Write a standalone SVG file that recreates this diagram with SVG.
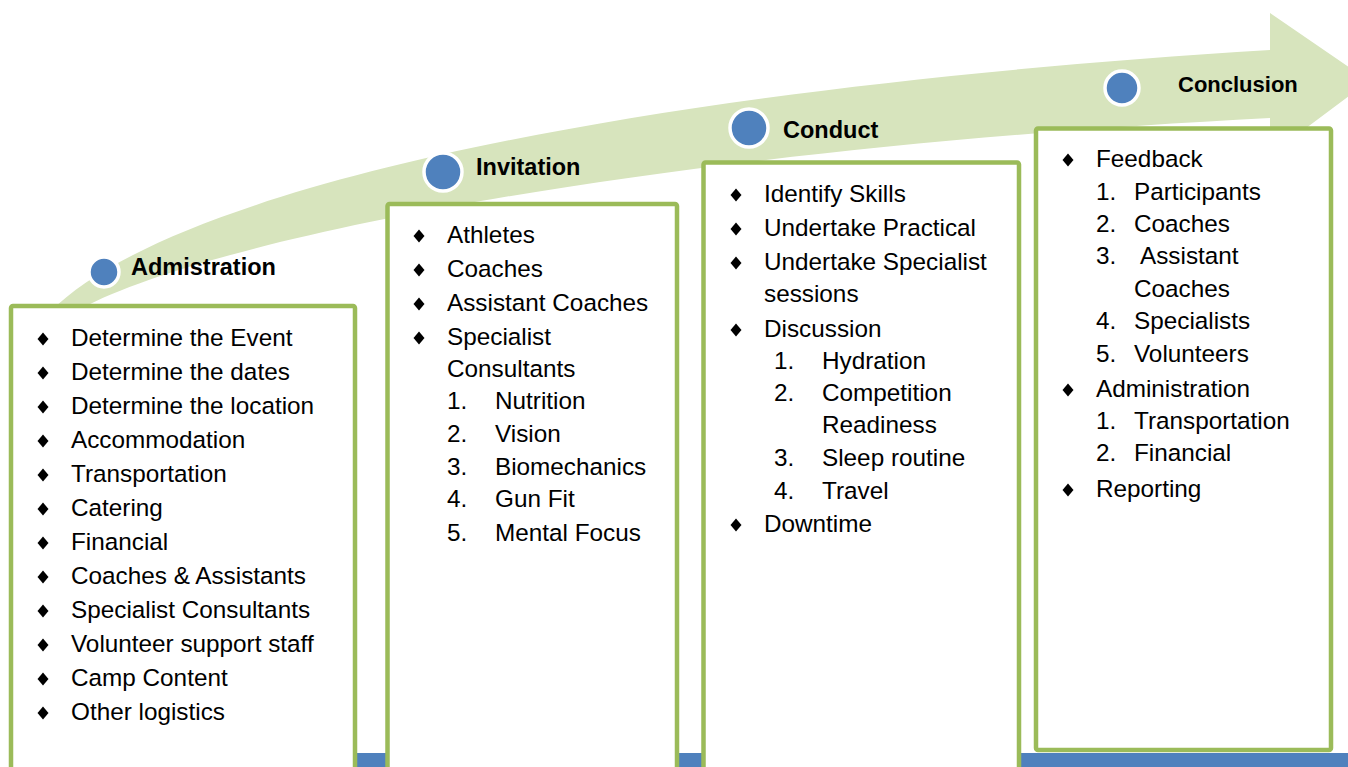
<svg xmlns="http://www.w3.org/2000/svg" xmlns:xlink="http://www.w3.org/1999/xlink" width="1348" height="767" viewBox="0 0 1348 767">
<style>
.box{fill:#fff;stroke:#9BBB59;stroke-width:4.5}
.t{font-family:"Liberation Sans",Arial,sans-serif;font-size:24.3px;fill:#000}
.h{font-family:"Liberation Sans",Arial,sans-serif;font-size:23.5px;font-weight:bold;fill:#000}
.dot{fill:#4F81BD;stroke:#fff;stroke-width:3.5}
.bul{fill:#000}
</style>
<defs>
<path id="b" class="bul" d="M0,-6.5 L5.5,0 L0,6.5 L-5.5,0 Z"/>
</defs>
<rect width="1348" height="767" fill="#fff"/>
<g id="connectors">
<path d="M 50,312 C 170,190 620,90 1270,50 L 1270,13 L 1369,81 L 1270,155 L 1270,118 C 650,150 200,240 75,312 Z" fill="#D7E4BD"/>
</g>
<rect id="bar" x="14" y="753" width="1334" height="14" fill="#4F81BD"/>
<g id="node-admin">
<rect class="box" x="11" y="306" width="344" height="500" rx="2"/>
<circle class="dot" cx="104" cy="272" r="15"/>
<text class="h" x="131" y="275">Admistration</text>
<use xlink:href="#b" x="43" y="339"/><text class="t" x="71" y="346">Determine the Event</text>
<use xlink:href="#b" x="43" y="373"/><text class="t" x="71" y="380">Determine the dates</text>
<use xlink:href="#b" x="43" y="407"/><text class="t" x="71" y="414">Determine the location</text>
<use xlink:href="#b" x="43" y="441"/><text class="t" x="71" y="448">Accommodation</text>
<use xlink:href="#b" x="43" y="475"/><text class="t" x="71" y="482">Transportation</text>
<use xlink:href="#b" x="43" y="509"/><text class="t" x="71" y="516">Catering</text>
<use xlink:href="#b" x="43" y="543"/><text class="t" x="71" y="550">Financial</text>
<use xlink:href="#b" x="43" y="577"/><text class="t" x="71" y="584">Coaches &amp; Assistants</text>
<use xlink:href="#b" x="43" y="611"/><text class="t" x="71" y="618">Specialist Consultants</text>
<use xlink:href="#b" x="43" y="645"/><text class="t" x="71" y="652">Volunteer support staff</text>
<use xlink:href="#b" x="43" y="679"/><text class="t" x="71" y="686">Camp Content</text>
<use xlink:href="#b" x="43" y="713"/><text class="t" x="71" y="720">Other logistics</text>
</g>
<g id="node-invitation">
<rect class="box" x="387.5" y="204" width="289.5" height="600" rx="2"/>
<circle class="dot" cx="443" cy="172" r="19"/>
<text class="h" x="476" y="175">Invitation</text>
<use xlink:href="#b" x="419" y="236"/><text class="t" x="447" y="243">Athletes</text>
<use xlink:href="#b" x="419" y="270"/><text class="t" x="447" y="277">Coaches</text>
<use xlink:href="#b" x="419" y="304"/><text class="t" x="447" y="311">Assistant Coaches</text>
<use xlink:href="#b" x="419" y="338"/><text class="t" x="447" y="345">Specialist</text>
<text class="t" x="447" y="377">Consultants</text>
<text class="t" x="447" y="409">1.</text><text class="t" x="495" y="409">Nutrition</text>
<text class="t" x="447" y="442">2.</text><text class="t" x="495" y="442">Vision</text>
<text class="t" x="447" y="475">3.</text><text class="t" x="495" y="475">Biomechanics</text>
<text class="t" x="447" y="507">4.</text><text class="t" x="495" y="507">Gun Fit</text>
<text class="t" x="447" y="541">5.</text><text class="t" x="495" y="541">Mental Focus</text>
</g>
<g id="node-conduct">
<rect class="box" x="703.5" y="162.5" width="315.5" height="650" rx="2"/>
<circle class="dot" cx="749" cy="128" r="19"/>
<text class="h" x="783" y="138">Conduct</text>
<use xlink:href="#b" x="736" y="195"/><text class="t" x="764" y="202">Identify Skills</text>
<use xlink:href="#b" x="736" y="229"/><text class="t" x="764" y="236">Undertake Practical</text>
<use xlink:href="#b" x="736" y="263"/><text class="t" x="764" y="270">Undertake Specialist</text>
<text class="t" x="764" y="302">sessions</text>
<use xlink:href="#b" x="736" y="330"/><text class="t" x="764" y="337">Discussion</text>
<text class="t" x="774" y="369">1.</text><text class="t" x="822" y="369">Hydration</text>
<text class="t" x="774" y="401">2.</text><text class="t" x="822" y="401">Competition</text>
<text class="t" x="822" y="433">Readiness</text>
<text class="t" x="774" y="466">3.</text><text class="t" x="822" y="466">Sleep routine</text>
<text class="t" x="774" y="499">4.</text><text class="t" x="822" y="499">Travel</text>
<use xlink:href="#b" x="736" y="525"/><text class="t" x="764" y="532">Downtime</text>
</g>
<g id="node-conclusion">
<rect class="box" x="1036" y="128.5" width="295" height="621.5" rx="2"/>
<circle class="dot" cx="1122" cy="88" r="17"/>
<text class="h" x="1178" y="92" style="font-size:22px">Conclusion</text>
<use xlink:href="#b" x="1068" y="160"/><text class="t" x="1096" y="167">Feedback</text>
<text class="t" x="1096" y="200">1.</text><text class="t" x="1134" y="200">Participants</text>
<text class="t" x="1096" y="232">2.</text><text class="t" x="1134" y="232">Coaches</text>
<text class="t" x="1096" y="264">3.</text><text class="t" x="1140" y="264">Assistant</text>
<text class="t" x="1134" y="297">Coaches</text>
<text class="t" x="1096" y="329">4.</text><text class="t" x="1134" y="329">Specialists</text>
<text class="t" x="1096" y="362">5.</text><text class="t" x="1134" y="362">Volunteers</text>
<use xlink:href="#b" x="1068" y="390"/><text class="t" x="1096" y="397">Administration</text>
<text class="t" x="1096" y="429">1.</text><text class="t" x="1134" y="429">Transportation</text>
<text class="t" x="1096" y="461">2.</text><text class="t" x="1134" y="461">Financial</text>
<use xlink:href="#b" x="1068" y="490"/><text class="t" x="1096" y="497">Reporting</text>
</g>
</svg>
